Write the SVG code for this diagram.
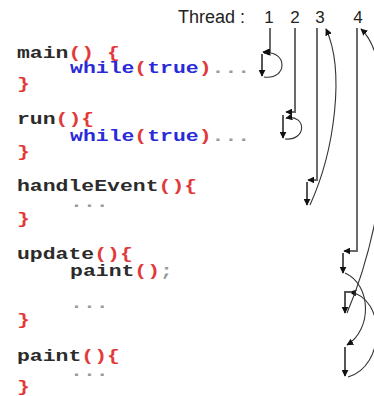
<svg xmlns="http://www.w3.org/2000/svg" width="374" height="396" viewBox="0 0 374 396">
  <style>
    .code { font-family: "Liberation Mono", "Courier New", monospace; font-weight: bold; font-size: 16.5px; }
    .k { fill: #2b2b2b; }
    .p { fill: #e23a3a; }
    .b { fill: #2a2ad8; }
    .g { fill: #9a9a9a; }
    .lbl { font-family: "Liberation Sans", Arial, sans-serif; font-size: 18px; fill: #222; }
    .num { font-family: "Liberation Sans", Arial, sans-serif; font-size: 17px; fill: #222; text-anchor: middle; }
    .thread { fill: none; stroke: #6a6a6a; stroke-width: 2; }
    .step { fill: none; stroke: #555; stroke-width: 2; }
    .flow { fill: none; stroke: #333; stroke-width: 1.1; }
  </style>
  <defs>
    <marker id="ah" viewBox="0 0 10 10" refX="9" refY="5" markerWidth="7" markerHeight="7" markerUnits="userSpaceOnUse" orient="auto">
      <path d="M0,0 L10,5 L0,10 z" fill="#111"/>
    </marker>
  </defs>
  <rect width="374" height="396" fill="#fff"/>

  <!-- thread header -->
  <g id="threads">
    <text class="lbl" x="178" y="23">Thread :</text>
    <text class="num" x="269" y="23">1</text>
    <text class="num" x="295" y="23">2</text>
    <text class="num" x="320" y="23">3</text>
    <text class="num" x="358" y="23">4</text>
  </g>

  <!-- code blocks: wide monospace, indented lines at x = 40.8 (70px on screen) -->
  <g id="main" class="code" transform="translate(17,0) scale(1.3,1)">
    <text x="0" y="58"><tspan class="k">main</tspan><tspan class="p">() {</tspan></text>
    <text x="40.8" y="73"><tspan class="b">while</tspan><tspan class="p">(</tspan><tspan class="b">true</tspan><tspan class="p">)</tspan><tspan class="g">...</tspan></text>
    <text x="0" y="89" class="p">}</text>
  </g>
  <g id="run" class="code" transform="translate(17,0) scale(1.3,1)">
    <text x="0" y="124"><tspan class="k">run</tspan><tspan class="p">(){</tspan></text>
    <text x="40.8" y="141"><tspan class="b">while</tspan><tspan class="p">(</tspan><tspan class="b">true</tspan><tspan class="p">)</tspan><tspan class="g">...</tspan></text>
    <text x="0" y="157" class="p">}</text>
  </g>
  <g id="handleEvent" class="code" transform="translate(17,0) scale(1.3,1)">
    <text x="0" y="191"><tspan class="k">handleEvent</tspan><tspan class="p">(){</tspan></text>
    <text x="40.8" y="207" class="g">...</text>
    <text x="0" y="224" class="p">}</text>
  </g>
  <g id="update" class="code" transform="translate(17,0) scale(1.3,1)">
    <text x="0" y="259"><tspan class="k">update</tspan><tspan class="p">(){</tspan></text>
    <text x="40.8" y="276"><tspan class="k">paint</tspan><tspan class="p">()</tspan><tspan class="g">;</tspan></text>
    <text x="40.8" y="308" class="g">...</text>
    <text x="0" y="325" class="p">}</text>
  </g>
  <g id="paint" class="code" transform="translate(17,0) scale(1.3,1)">
    <text x="0" y="361"><tspan class="k">paint</tspan><tspan class="p">(){</tspan></text>
    <text x="40.8" y="376" class="g">...</text>
    <text x="0" y="392" class="p">}</text>
  </g>

  <!-- execution paths of the four threads -->
  <g id="connectors">
    <!-- thread 1: main loop -->
    <path class="thread" d="M270,28 V52 H263" marker-end="url(#ah)"/>
    <path class="step" d="M262,54 V76" marker-end="url(#ah)"/>
    <path class="flow" d="M264,77 C288,80 288,50 264,53" marker-end="url(#ah)"/>

    <!-- thread 2: run loop -->
    <path class="thread" d="M295,28 V112 H286" marker-end="url(#ah)"/>
    <path class="step" d="M283,115 V138" marker-end="url(#ah)"/>
    <path class="flow" d="M285,139 C307,141 307,114 286,118" marker-end="url(#ah)"/>

    <!-- thread 3: handleEvent -->
    <path class="thread" d="M317,28 V180 H308" marker-end="url(#ah)"/>
    <path class="step" d="M307,182 V205" marker-end="url(#ah)"/>
    <path class="flow" d="M310,205 C335,150 345,70 326,29" marker-end="url(#ah)"/>

    <!-- thread 4: update calls paint -->
    <path class="thread" d="M357,28 V251 H344" marker-end="url(#ah)"/>
    <path class="step" d="M343,253 V273" marker-end="url(#ah)"/>
    <path class="flow" d="M345,273 C372,285 372,330 347,345" marker-end="url(#ah)"/>
    <path class="step" d="M345,347 V376" marker-end="url(#ah)"/>
    <path class="flow" d="M348,377 C386,366 386,298 350,292" marker-end="url(#ah)"/>
    <path class="step" d="M352,292 H345 V313" marker-end="url(#ah)"/>
    <path class="flow" d="M347,313 C395,200 395,60 361,29" marker-end="url(#ah)"/>
  </g>
</svg>
